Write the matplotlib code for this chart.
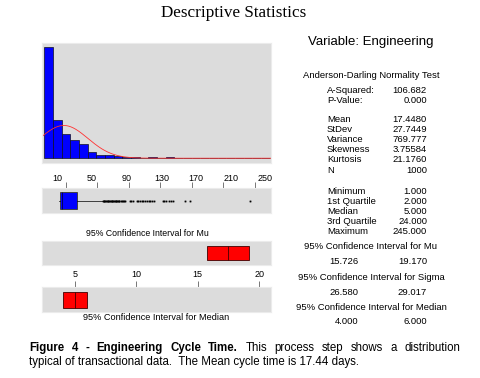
import numpy as np
import matplotlib
matplotlib.use("Agg")
import matplotlib.pyplot as plt

# histogram of cycle time (bin centers, counts)
bin_centers = [0, 10, 20, 30, 40, 50, 60, 70, 80, 90, 100, 110, 120, 130,
               140, 150, 160, 170, 180, 190, 200, 210, 220, 230, 240, 250]
bin_counts = [489, 166, 106, 81, 62, 29, 16, 13, 9, 4, 4, 2, 5, 1,
              5, 1, 2, 1, 0, 0, 0, 0, 0, 0, 0, 1]
hist_ticks = [10, 50, 90, 130, 170, 210, 250]

# summary stats
mean, stdev, n = 17.4480, 27.7449, 1000
q1, median, q3, vmin, vmax = 2.0, 5.0, 24.0, 1.0, 245.0
whisker_hi = 57
outliers = [57, 58, 59, 60, 61, 62, 63, 64, 65, 66, 67, 68, 69, 70, 71, 72,
            73, 74, 75, 76, 77, 78, 80, 81, 82, 84, 85, 91, 93, 95, 100, 102,
            104, 106, 108, 111, 113, 115, 117, 119, 122, 133, 135, 137, 141,
            143, 146, 161, 167, 244]
ci_mu = (15.726, 19.170)
ci_median = (4.0, 6.0)
ci_ticks = [5, 10, 15, 20]

stat_labels = ["A-Squared:", "P-Value:", "Mean", "StDev", "Variance", "Skewness",
               "Kurtosis", "N", "Minimum", "1st Quartile", "Median", "3rd Quartile",
               "Maximum"]
stat_values = ["106.682", "0.000", "17.4480", "27.7449", "769.777", "3.75584",
               "21.1760", "1000", "1.000", "2.000", "5.000", "24.000", "245.000"]
stat_rows_y = [90.7, 100.5, 120, 130, 140, 150, 160, 170.3, 191, 201, 211, 221, 231]

W, H = 480, 378
GRAY = "#dcdcdc"
FS = 6.8  # stats text size
plt.rcParams["font.family"] = ["Liberation Sans", "DejaVu Sans"]

fig = plt.figure(figsize=(W / 100, H / 100), dpi=100)


def box(x0, y0, x1, y1):
    # pixel box (top-left origin) -> axes
    ax = fig.add_axes([x0 / W, 1 - y1 / H, (x1 - x0) / W, (y1 - y0) / H])
    ax.set_facecolor(GRAY)
    for s in ax.spines.values():
        s.set_color("#ebebeb")
        s.set_linewidth(0.8)
    return ax


def txt(x, y, s, **kw):
    kw.setdefault("fontsize", 6.5)
    kw.setdefault("va", "center")
    return fig.text(x / W, 1 - y / H, s, **kw)


# histogram
ax_h = box(42, 43, 271, 163)
ax_h.bar(bin_centers, bin_counts, width=10, color="#0000ff",
         edgecolor="#101020", linewidth=0.5)
xs = np.linspace(-8, 257, 300)
pdf = n * 10 / (stdev * np.sqrt(2 * np.pi)) * np.exp(-(xs - mean) ** 2 / (2 * stdev ** 2))
ax_h.plot(xs, pdf, color="#ff3030", lw=0.6)
ax_h.set_xlim(-7.7, 256.4)
ax_h.set_ylim(-21, 506)
ax_h.set_yticks([])
ax_h.set_xticks(hist_ticks)
ax_h.tick_params(axis="x", length=0, labelsize=6.5, pad=8)

# boxplot
ax_b = box(42, 188, 271, 213)
ax_b.bxp([{"med": median, "q1": q1, "q3": q3, "whislo": vmin, "whishi": whisker_hi,
           "fliers": outliers}], orientation="horizontal", widths=0.67,
         patch_artist=True, showcaps=False,
         boxprops=dict(facecolor="#0000ff", edgecolor="#303000", lw=0.5),
         medianprops=dict(color="#000040", lw=0.6),
         whiskerprops=dict(color="black", lw=0.5),
         flierprops=dict(marker="s", markersize=1.0, markerfacecolor="black",
                         markeredgecolor="black", markeredgewidth=0.2,
                         linestyle="none"))
ax_b.set_xlim(-20.3, 270.3)
ax_b.set_ylim(0.5, 1.5)
ax_b.set_yticks([])
ax_b.set_xticks(hist_ticks)
ax_b.xaxis.set_ticks_position("top")
ax_b.tick_params(axis="x", length=4, width=0.6, color="#606060", labeltop=False,
                 labelbottom=False)

# CI for mu
ax_m = box(42, 241, 271, 265)
ax_m.barh(0, ci_mu[1] - ci_mu[0], left=ci_mu[0], height=0.62, color="#ff0000",
          edgecolor="#400000", lw=0.6)
ax_m.vlines(mean, -0.31, 0.31, color="#400000", lw=0.6)
ax_m.set_xlim(2.31, 20.97)
ax_m.set_ylim(-0.5, 0.5)
ax_m.set_xticks([])
ax_m.set_yticks([])

# CI for median
ax_d = box(42, 287, 271, 312)
ax_d.barh(0, ci_median[1] - ci_median[0], left=ci_median[0], height=0.64,
          color="#ff0000", edgecolor="#400000", lw=0.6)
ax_d.vlines(median, -0.32, 0.32, color="#400000", lw=0.6)
ax_d.set_xlim(2.31, 20.97)
ax_d.set_ylim(-0.5, 0.5)
ax_d.set_yticks([])
ax_d.set_xticks(ci_ticks)
ax_d.xaxis.set_ticks_position("top")
ax_d.tick_params(axis="x", length=4, width=0.6, color="#606060", labelsize=6.5,
                 pad=2)

txt(147, 233, "95% Confidence Interval for Mu", ha="center", fontsize=6.3)
txt(156, 317, "95% Confidence Interval for Median", ha="center", fontsize=6.6)

# titles
txt(234, 13, "Descriptive Statistics", ha="center", fontsize=12.3,
    family="Liberation Serif")
txt(371, 42, "Variable: Engineering", ha="center", fontsize=9.5)
txt(371, 75, "Anderson-Darling Normality Test", ha="center", fontsize=FS)

for lab, val, y in zip(stat_labels, stat_values, stat_rows_y):
    txt(327, y, lab, fontsize=FS)
    txt(427, y, val, ha="right", fontsize=FS)

txt(371, 246.7, "95% Confidence Interval for Mu", ha="center", fontsize=FS)
txt(358, 261.7, f"{ci_mu[0]:.3f}", ha="right", fontsize=FS)
txt(427, 261.7, f"{ci_mu[1]:.3f}", ha="right", fontsize=FS)
txt(371, 277.3, "95% Confidence Interval for Sigma", ha="center", fontsize=FS)
txt(358, 292.3, "26.580", ha="right", fontsize=FS)
txt(427, 292.3, "29.017", ha="right", fontsize=FS)
txt(371, 307.3, "95% Confidence Interval for Median", ha="center", fontsize=FS)
txt(358, 322, f"{ci_median[0]:.3f}", ha="right", fontsize=FS)
txt(427, 322, f"{ci_median[1]:.3f}", ha="right", fontsize=FS)

# caption, first line justified between x=29 and x=460
cap_bold = "Figure 4 - Engineering Cycle Time.".split()
cap_norm = "This process step shows a distribution".split()
words = [(w, "bold") for w in cap_bold] + [(w, "normal") for w in cap_norm]
arts = [txt(29, 348, w, fontsize=8.3, fontweight=fw) for w, fw in words]
fig.canvas.draw()
r = fig.canvas.get_renderer()
widths = [a.get_window_extent(r).width for a in arts]
gap = (460 - 29 - sum(widths)) / (len(arts) - 1)
x = 29
for a, wd in zip(arts, widths):
    a.set_x(x / W)
    x += wd + gap
txt(29, 362, "typical of transactional data.  The Mean cycle time is 17.44 days.",
    fontsize=8.3)

fig.savefig("out.png", dpi=100)
